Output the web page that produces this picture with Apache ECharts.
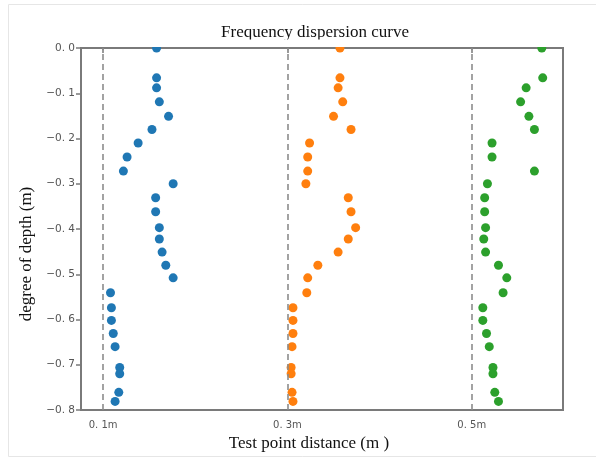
<!DOCTYPE html>
<html>
<head>
<meta charset="utf-8">
<script src="https://cdn.jsdelivr.net/npm/echarts@6/dist/echarts.min.js"></script>
<style>
  html, body { margin: 0; padding: 0; background: #fff; }
  #chart { width: 596px; height: 459px; }
</style>
</head>
<body>
<div id="chart"></div>
<script>
// Depth of each measuring point (m), shared by the three test lines
const depths = [0, -0.066, -0.088, -0.119, -0.151, -0.18, -0.21, -0.241, -0.272, -0.3,
  -0.331, -0.362, -0.397, -0.422, -0.451, -0.48, -0.508, -0.541, -0.574, -0.602,
  -0.631, -0.66, -0.706, -0.72, -0.761, -0.781];

// Plotted position of each point along the distance axis, one array per test point
const line01 = [0.158, 0.158, 0.158, 0.161, 0.171, 0.153, 0.138, 0.126, 0.122, 0.176,
  0.157, 0.157, 0.161, 0.161, 0.164, 0.168, 0.176, 0.108, 0.109, 0.109,
  0.111, 0.113, 0.118, 0.118, 0.117, 0.113];
const line03 = [0.357, 0.357, 0.355, 0.360, 0.350, 0.369, 0.324, 0.322, 0.322, 0.320,
  0.366, 0.369, 0.374, 0.366, 0.355, 0.333, 0.322, 0.321, 0.306, 0.306,
  0.306, 0.305, 0.304, 0.304, 0.305, 0.306];
const line05 = [0.576, 0.577, 0.559, 0.553, 0.562, 0.568, 0.522, 0.522, 0.568, 0.517,
  0.514, 0.514, 0.515, 0.513, 0.515, 0.529, 0.538, 0.534, 0.512, 0.512,
  0.516, 0.519, 0.523, 0.523, 0.525, 0.529];

// Test point positions (dashed guides) and their tick labels
const testPoints = [0.1, 0.3, 0.5];
const testPointLabels = ['0. 1m', '0. 3m', '0. 5m'];

const colors = ['#1f77b4', '#ff7f0e', '#2ca02c'];
const seriesData = [line01, line03, line05];

const chart = echarts.init(document.getElementById('chart'), null, { renderer: 'canvas' });

const serif = '"Liberation Serif", "Times New Roman", serif';
const axisGray = '#7a7a7a';

const series = seriesData.map((vals, i) => ({
  type: 'scatter',
  name: testPointLabels[i],
  data: vals.map((x, k) => [x, depths[k]]),
  symbol: 'circle',
  symbolSize: 9,
  clip: true,
  itemStyle: { color: colors[i], opacity: 1 },
  z: 3
}));

// Dashed vertical guides at each test point
series.push({
  type: 'line',
  data: [],
  silent: true,
  markLine: {
    silent: true,
    symbol: ['none', 'none'],
    label: { show: false },
    lineStyle: { color: '#8c8c8c', type: [6, 4], width: 1.6 },
    data: testPoints.map(v => ({ xAxis: v }))
  },
  z: 1
});

chart.setOption({
  animation: false,
  backgroundColor: '#fff',
  title: {
    text: 'Frequency dispersion curve',
    left: 310,
    top: 19,
    textAlign: 'center',
    textStyle: { fontFamily: serif, fontSize: 17, fontWeight: 'normal', color: '#111' }
  },
  grid: {
    left: 81, right: 33, top: 48, bottom: 49,
    show: true,
    borderColor: axisGray,
    borderWidth: 2,
    backgroundColor: 'transparent'
  },
  xAxis: {
    type: 'value',
    min: 0.076,
    max: 0.599,
    name: 'Test point distance (m )',
    nameLocation: 'middle',
    nameGap: 23,
    nameTextStyle: { fontFamily: serif, fontSize: 17, color: '#111', padding: [0, 26, 0, 0] },
    axisLine: { show: true, lineStyle: { color: axisGray, width: 2 } },
    axisTick: { show: true, customValues: testPoints, length: 5, inside: false, lineStyle: { color: axisGray, width: 1.5 } },
    axisLabel: {
      customValues: testPoints,
      formatter: v => testPointLabels[testPoints.findIndex(t => Math.abs(t - v) < 1e-6)] || '',
      fontSize: 10, color: '#555', margin: 10,
      fontFamily: '"DejaVu Sans", sans-serif'
    },
    splitLine: { show: false }
  },
  yAxis: {
    type: 'value',
    min: -0.8,
    max: 0,
    interval: 0.1,
    name: 'degree of depth (m)',
    nameLocation: 'middle',
    nameGap: 45,
    nameRotate: 90,
    nameTextStyle: { fontFamily: serif, fontSize: 17, color: '#111', padding: [0, 50, 0, 0] },
    axisLine: { show: true, lineStyle: { color: axisGray, width: 2 } },
    axisTick: { show: true, length: 5, lineStyle: { color: axisGray, width: 1.5 } },
    axisLabel: {
      formatter: v => (Math.abs(v) < 1e-9 ? '0. 0' : (v < 0 ? '\u22120. ' : '0. ') + Math.round(Math.abs(v) * 10)),
      fontSize: 10.5, color: '#555', margin: 6,
      fontFamily: '"DejaVu Sans", sans-serif'
    },
    splitLine: { show: false }
  },
  graphic: [{
    type: 'rect',
    shape: { x: 8.5, y: 4.5, width: 600, height: 452 },
    style: { fill: 'none', stroke: '#e6e6e6', lineWidth: 1 },
    silent: true,
    z: -1
  }, {
    // keeps markers on the top edge clipped to the plotting area
    type: 'rect',
    shape: { x: 82, y: 39.5, width: 480, height: 7.5 },
    style: { fill: '#fff' },
    silent: true,
    z: 100
  }],
  series: series
});
</script>
</body>
</html>
